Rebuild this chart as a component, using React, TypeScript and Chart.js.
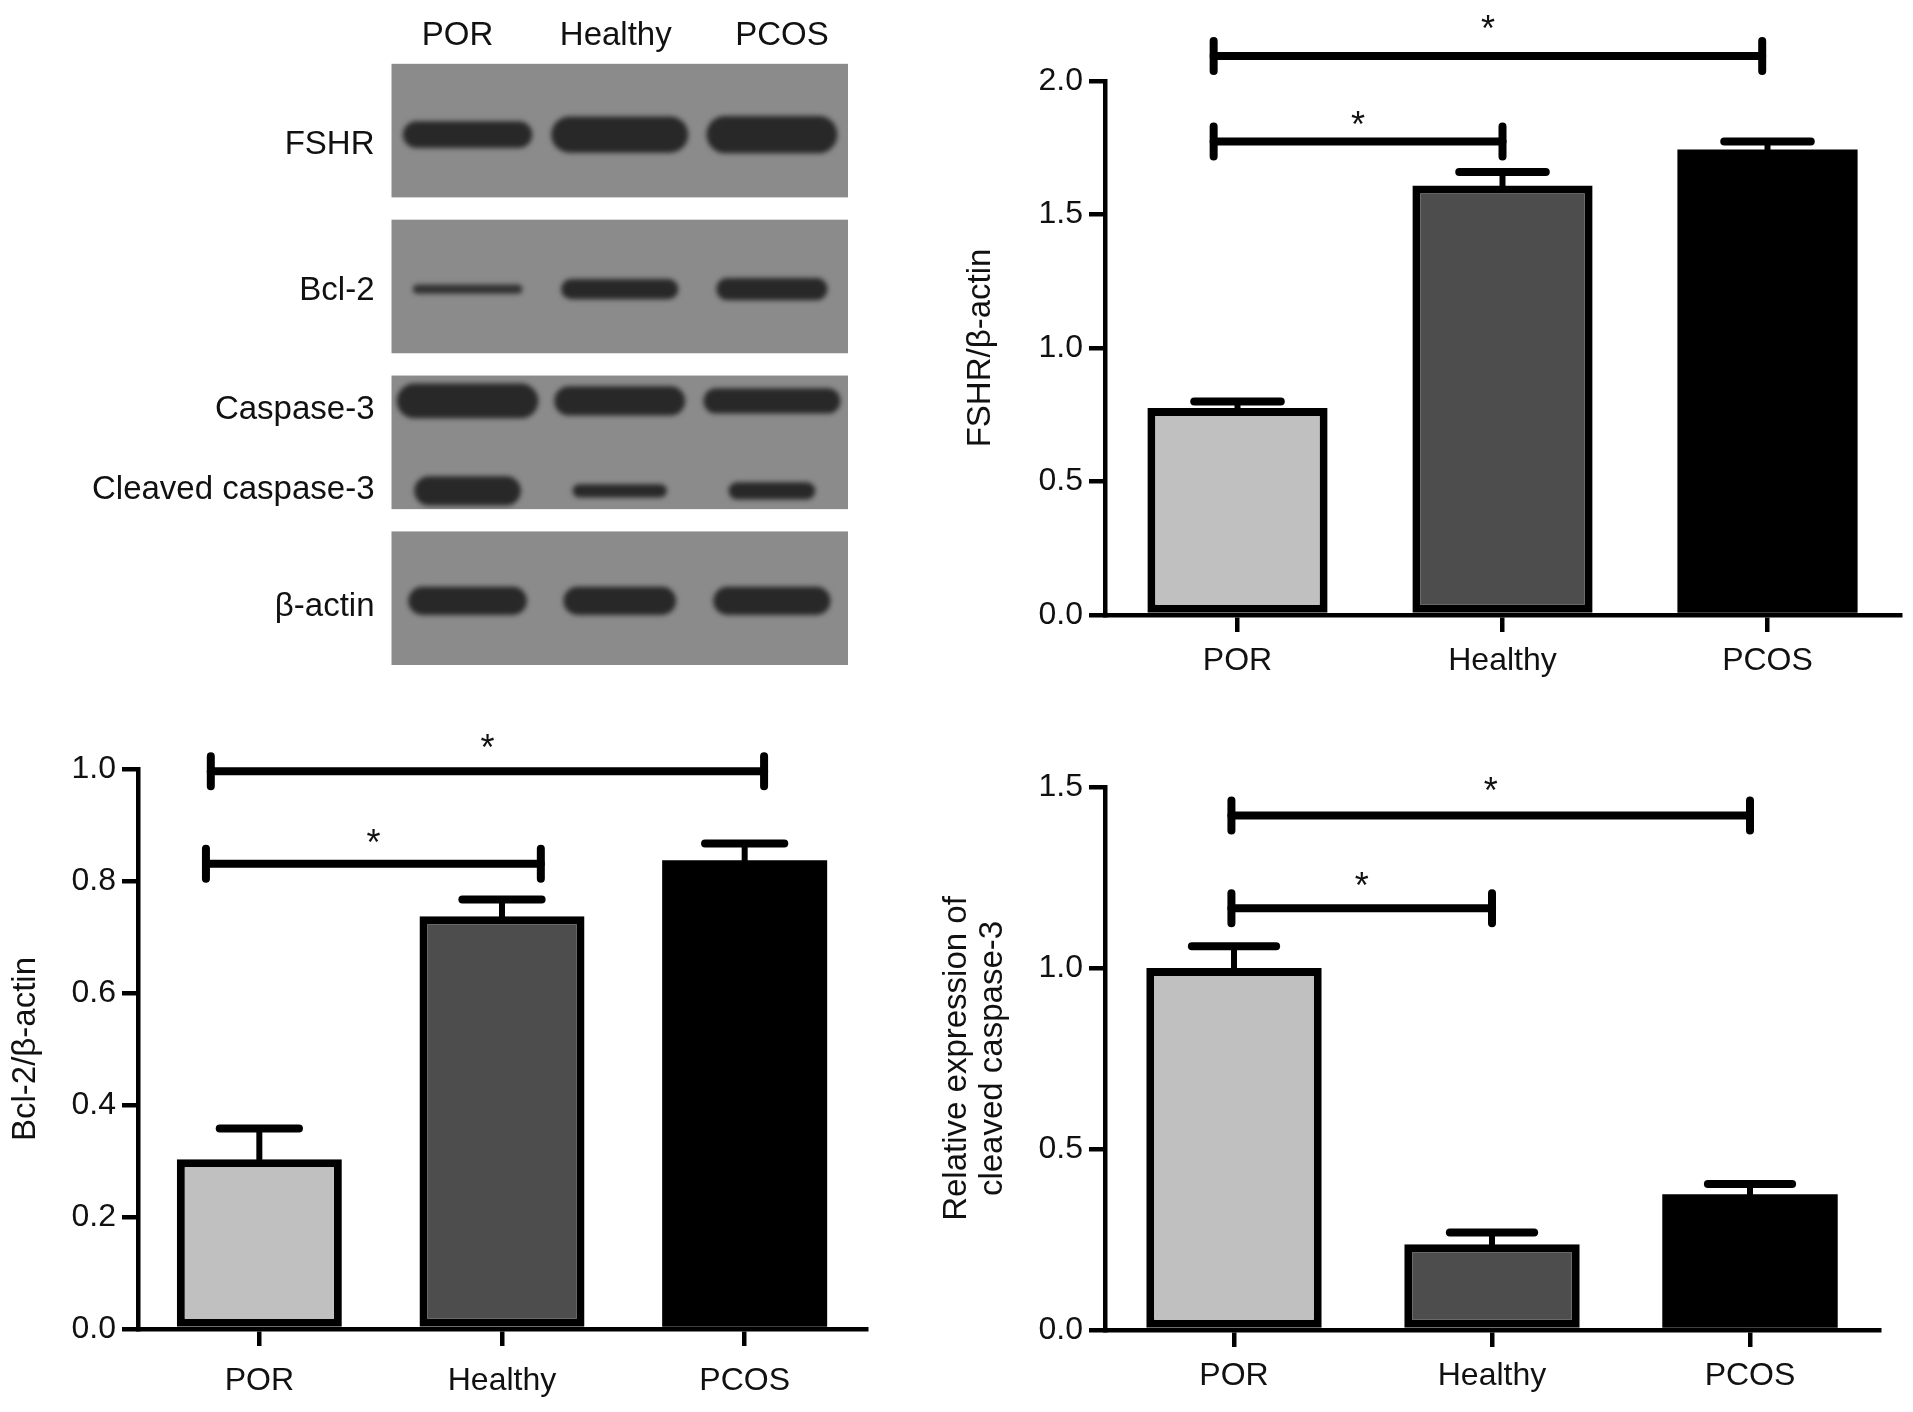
import React, { useEffect, useRef } from 'react';
import { Chart, registerables } from 'chart.js';

Chart.register(...registerables);

const FONT = "'Liberation Sans', Arial, Helvetica, sans-serif";
const INK = '#111111';

// ---------------- data ----------------
const groups = ['POR', 'Healthy', 'PCOS'];
const groupColors = ['#c0c0c0', '#4d4d4d', '#000000'];

// FSHR / beta-actin
const fshrMean = [0.775, 1.609, 1.743];
const fshrSd = [0.025, 0.05, 0.03];
const fshrTicks = [0, 0.5, 1.0, 1.5, 2.0];
const fshrSig = [
  { from: -0.09, to: 1.0, y: 1.773, star: 1.869 },
  { from: -0.09, to: 1.98, y: 2.094, star: 2.228 },
];

// Bcl-2 / beta-actin
const bcl2Mean = [0.303, 0.737, 0.837];
const bcl2Sd = [0.055, 0.03, 0.03];
const bcl2Ticks = [0, 0.2, 0.4, 0.6, 0.8, 1.0];
const bcl2Sig = [
  { from: -0.22, to: 1.16, y: 0.831, star: 0.884 },
  { from: -0.2, to: 2.08, y: 0.996, star: 1.054 },
];

// Relative expression of cleaved caspase-3
const cleavedMean = [1.0, 0.237, 0.375];
const cleavedSd = [0.06, 0.032, 0.028];
const cleavedTicks = [0, 0.5, 1.0, 1.5];
const cleavedSig = [
  { from: -0.01, to: 1.0, y: 1.165, star: 1.252 },
  { from: -0.01, to: 2.0, y: 1.421, star: 1.515 },
];

// Western blot
const blotLanes = ['POR', 'Healthy', 'PCOS'];
const blotRows = ['FSHR', 'Bcl-2', 'Caspase-3', 'Cleaved caspase-3', 'β-actin'];
// relative band width (fraction of lane) and thickness (fraction of panel)
const blotBandWidth = [
  [0.85, 0.9, 0.86],
  [0.72, 0.77, 0.73],
  [0.93, 0.86, 0.9],
  [0.7, 0.62, 0.57],
  [0.78, 0.74, 0.77],
];
const blotBandHeight = [
  [0.2, 0.27, 0.28],
  [0.07, 0.15, 0.165],
  [0.26, 0.22, 0.19],
  [0.22, 0.1, 0.13],
  [0.21, 0.21, 0.21],
];

// ---------------- layout / style (not data) ----------------
const ROW_PANEL = [0, 1, 2, 2, 3];
const ROW_BAND_POS = [0.53, 0.52, 0.19, 0.863, 0.52];
const ROW_LABEL_BASE = [0.673, 0.604, 0.323, 0.923, 0.634];
const LANE_LABEL_SHIFT = [-10, -4, 10];
const PANEL_H = 0.857;
const BAR_BORDER = [8, 8, 0]; // black bar needs no separate outline

type Sig = { from: number; to: number; y: number; star: number };

function BlotChart() {
  const ref = useRef<HTMLCanvasElement>(null);
  useEffect(() => {
    const blotPlugin = {
      id: 'blot',
      afterDraw(chart: any) {
        const ctx = chart.ctx as CanvasRenderingContext2D;
        const xs = chart.scales.x;
        const ys = chart.scales.y;
        const ca = chart.chartArea;
        ctx.save();
        for (let p = 0; p < 4; p++) {
          const t = ys.getPixelForValue(p);
          const b = ys.getPixelForValue(p + PANEL_H);
          ctx.fillStyle = '#8b8b8b';
          ctx.fillRect(ca.left, t, ca.right - ca.left, b - t);
        }
        const laneW = xs.getPixelForValue(1) - xs.getPixelForValue(0);
        blotRows.forEach((row, r) => {
          const pTop = ys.getPixelForValue(ROW_PANEL[r]);
          const pBot = ys.getPixelForValue(ROW_PANEL[r] + PANEL_H);
          const pH = pBot - pTop;
          const cy = pTop + ROW_BAND_POS[r] * pH;
          ctx.save();
          ctx.beginPath();
          ctx.rect(ca.left, pTop, ca.right - ca.left, pH);
          ctx.clip();
          blotLanes.forEach((_, i) => {
            const cx = xs.getPixelForValue(i + 0.5);
            const w = blotBandWidth[r][i] * laneW;
            const h = blotBandHeight[r][i] * pH;
            ctx.filter = 'blur(2.5px)';
            ctx.fillStyle = h < 12 ? '#323232' : '#282828';
            ctx.beginPath();
            (ctx as any).roundRect(cx - w / 2, cy - h / 2, w, h, h / 2);
            ctx.fill();
          });
          ctx.restore();
          ctx.filter = 'none';
          ctx.fillStyle = INK;
          ctx.font = `33px ${FONT}`;
          ctx.textAlign = 'right';
          ctx.textBaseline = 'alphabetic';
          ctx.fillText(row, ca.left - 17, pTop + ROW_LABEL_BASE[r] * pH);
        });
        ctx.filter = 'none';
        ctx.fillStyle = INK;
        ctx.font = `33px ${FONT}`;
        ctx.textAlign = 'center';
        ctx.textBaseline = 'alphabetic';
        blotLanes.forEach((lane, i) => {
          ctx.fillText(lane, xs.getPixelForValue(i + 0.5) + LANE_LABEL_SHIFT[i], ca.top - 19);
        });
        ctx.restore();
      },
    };
    const chart = new Chart(ref.current!, {
      type: 'scatter',
      data: { datasets: [] },
      options: {
        animation: false,
        responsive: false,
        devicePixelRatio: 1,
        layout: { padding: { left: 391.5, right: 52, top: 63.8, bottom: 35 } },
        plugins: { legend: { display: false }, tooltip: { enabled: false } },
        scales: {
          x: { type: 'linear', min: 0, max: 3, display: false },
          y: { type: 'linear', min: 0, max: 3 + PANEL_H, reverse: true, display: false },
        },
      },
      plugins: [blotPlugin],
    } as any);
    return () => chart.destroy();
  }, []);
  return (
    <canvas
      ref={ref}
      width={900}
      height={700}
      style={{ position: 'absolute', left: 0, top: 0, width: 900, height: 700 }}
    />
  );
}

type BarProps = {
  box: { left: number; top: number; width: number; height: number };
  area: { yAxisWidth: number; padTop: number; padRight: number; xAxisHeight: number };
  means: number[];
  sds: number[];
  ticks: number[];
  title: string | string[];
  titlePad: number;
  xLabelPad: number;
  sig: Sig[];
};

function BarChart(props: BarProps) {
  const ref = useRef<HTMLCanvasElement>(null);
  const { box, area, means, sds, ticks, title, titlePad, xLabelPad, sig } = props;
  useEffect(() => {
    const annot = {
      id: 'annot',
      afterDatasetsDraw(chart: any) {
        const ctx = chart.ctx as CanvasRenderingContext2D;
        const ys = chart.scales.y;
        const meta = chart.getDatasetMeta(0);
        ctx.save();
        ctx.strokeStyle = '#000';
        meta.data.forEach((bar: any, i: number) => {
          const { x, width } = bar.getProps(['x', 'width'], true);
          const yTop = ys.getPixelForValue(means[i]);
          const yErr = ys.getPixelForValue(means[i] + sds[i]);
          ctx.lineCap = 'butt';
          ctx.lineWidth = 6;
          ctx.beginPath();
          ctx.moveTo(x, yTop + 2);
          ctx.lineTo(x, yErr);
          ctx.stroke();
          const half = width * 0.24;
          ctx.lineCap = 'round';
          ctx.lineWidth = 8;
          ctx.beginPath();
          ctx.moveTo(x - half, yErr);
          ctx.lineTo(x + half, yErr);
          ctx.stroke();
        });
        ctx.restore();
      },
      afterDraw(chart: any) {
        const ctx = chart.ctx as CanvasRenderingContext2D;
        const xs = chart.scales.x;
        const ys = chart.scales.y;
        ctx.save();
        ctx.strokeStyle = '#000';
        ctx.fillStyle = INK;
        ctx.lineWidth = 8;
        ctx.lineCap = 'round';
        sig.forEach((s) => {
          const x1 = xs.getPixelForValue(s.from);
          const x2 = xs.getPixelForValue(s.to);
          const y = ys.getPixelForValue(s.y);
          ctx.beginPath();
          ctx.moveTo(x1, y);
          ctx.lineTo(x2, y);
          ctx.stroke();
          ctx.beginPath();
          ctx.moveTo(x1, y - 15);
          ctx.lineTo(x1, y + 15);
          ctx.moveTo(x2, y - 15);
          ctx.lineTo(x2, y + 15);
          ctx.stroke();
          const sy = ys.getPixelForValue(s.star);
          ctx.font = `36px ${FONT}`;
          ctx.textAlign = 'center';
          ctx.textBaseline = 'alphabetic';
          ctx.fillText('*', (x1 + x2) / 2, sy + 21);
        });
        ctx.restore();
      },
    };

    const chart = new Chart(ref.current!, {
      type: 'bar',
      data: {
        labels: groups,
        datasets: [
          {
            data: means,
            backgroundColor: groupColors,
            borderColor: '#000',
            borderWidth: BAR_BORDER,
            borderSkipped: false,
            barPercentage: 0.68,
            categoryPercentage: 1.0,
          },
        ],
      },
      options: {
        animation: false,
        responsive: false,
        devicePixelRatio: 1,
        layout: { padding: { left: 0, top: area.padTop, right: area.padRight, bottom: 0 } },
        plugins: { legend: { display: false }, tooltip: { enabled: false }, title: { display: false } },
        scales: {
          x: {
            type: 'category',
            offset: true,
            grid: {
              display: true,
              drawOnChartArea: false,
              drawTicks: true,
              tickLength: 17,
              lineWidth: 4.5,
              color: '#000',
              offset: false,
            },
            border: { display: true, color: '#000', width: 4.5 },
            ticks: {
              font: { family: FONT, size: 32 },
              color: INK,
              padding: xLabelPad,
              maxRotation: 0,
              autoSkip: false,
            },
            afterFit: (s: any) => {
              s.height = area.xAxisHeight;
            },
          },
          y: {
            type: 'linear',
            min: ticks[0],
            max: ticks[ticks.length - 1],
            afterBuildTicks: (s: any) => {
              s.ticks = ticks.map((v) => ({ value: v }));
            },
            grid: {
              display: true,
              drawOnChartArea: false,
              drawTicks: true,
              tickLength: 16,
              lineWidth: 4.5,
              color: '#000',
            },
            border: { display: true, color: '#000', width: 4.5 },
            ticks: {
              font: { family: FONT, size: 32 },
              color: INK,
              padding: 6,
              callback: (v: any) => Number(v).toFixed(1),
            },
            title: {
              display: true,
              text: title as any,
              font: { family: FONT, size: 33, lineHeight: 1.1 },
              color: INK,
              padding: { top: titlePad, bottom: 0 },
            },
            afterFit: (s: any) => {
              s.width = area.yAxisWidth;
            },
          },
        },
      },
      plugins: [annot],
    } as any);
    return () => chart.destroy();
  }, []);
  return (
    <canvas
      ref={ref}
      width={box.width}
      height={box.height}
      style={{ position: 'absolute', left: box.left, top: box.top, width: box.width, height: box.height }}
    />
  );
}

export default function App() {
  return (
    <div
      style={{
        position: 'absolute',
        left: 0,
        top: 0,
        width: 1913,
        height: 1412,
        background: '#ffffff',
        overflow: 'hidden',
      }}
    >
      <BlotChart />
      <BarChart
        box={{ left: 950, top: 0, width: 963, height: 700 }}
        area={{ yAxisWidth: 155, padTop: 81, padRight: 13, xAxisHeight: 85 }}
        means={fshrMean}
        sds={fshrSd}
        ticks={fshrTicks}
        title="FSHR/β-actin"
        titlePad={13}
        xLabelPad={10}
        sig={fshrSig}
      />
      <BarChart
        box={{ left: 0, top: 700, width: 940, height: 712 }}
        area={{ yAxisWidth: 138, padTop: 69, padRight: 74, xAxisHeight: 83 }}
        means={bcl2Mean}
        sds={bcl2Sd}
        ticks={bcl2Ticks}
        title="Bcl-2/β-actin"
        titlePad={7.5}
        xLabelPad={16}
        sig={bcl2Sig}
      />
      <BarChart
        box={{ left: 930, top: 730, width: 983, height: 682 }}
        area={{ yAxisWidth: 175, padTop: 57, padRight: 34, xAxisHeight: 82 }}
        means={cleavedMean}
        sds={cleavedSd}
        ticks={cleavedTicks}
        title={['Relative expression of', 'cleaved caspase-3']}
        titlePad={8.5}
        xLabelPad={9.5}
        sig={cleavedSig}
      />
    </div>
  );
}
